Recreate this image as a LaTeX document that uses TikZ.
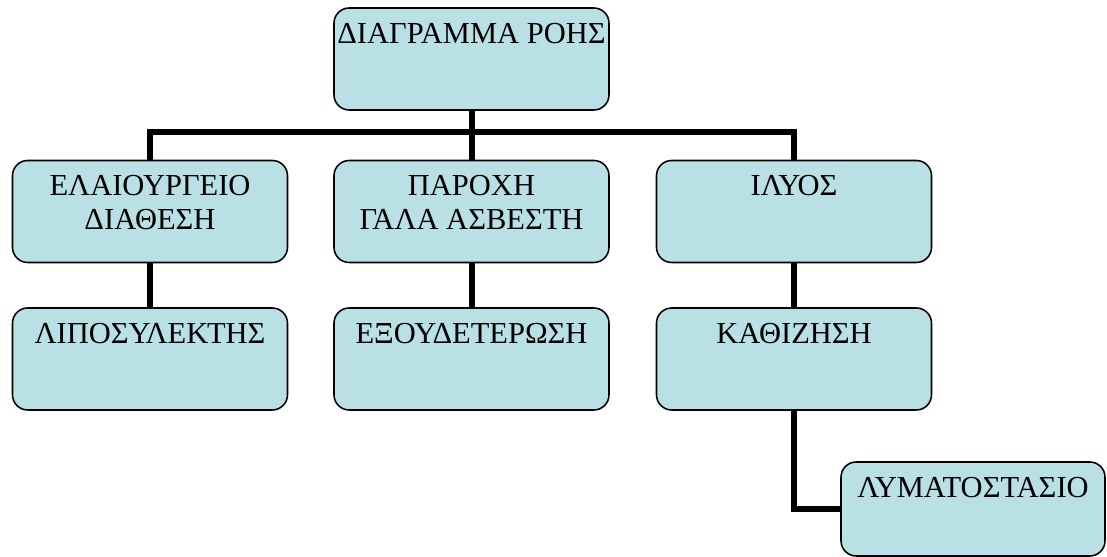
\documentclass[tikz,border=0pt]{standalone}
\usepackage{fontspec}
\setmainfont{Liberation Serif}
\usetikzlibrary{positioning}
\definecolor{boxfill}{RGB}{185,224,228}
\newcommand{\boxtext}[1]{\parbox[c][2.45cm][t]{6.8cm}{\centering\fontsize{21.7}{24.2}\selectfont\rule{0pt}{0.83cm}#1}}

\begin{document}
\begin{tikzpicture}[
  stage/.style={draw, line width=1.1pt, fill=boxfill, rounded corners=0.38cm, inner sep=0pt, minimum width=6.875cm, minimum height=2.55cm},
  link/.style={line width=0.15cm, line join=miter},
]
\useasboundingbox (0,0) rectangle (27.675,13.925);
% Top box
\node[stage] (flow) at (11.7875,12.45) {\boxtext{ΔΙΑΓΡΑΜΜΑ ΡΟΗΣ}};
% First row
\node[stage] (oil) at (3.75,8.6375) {\boxtext{ΕΛΑΙΟΥΡΓΕΙΟ\\ΔΙΑΘΕΣΗ}};
\node[stage] (lime) at (11.7875,8.6375) {\boxtext{ΠΑΡΟΧΗ\\ΓΑΛΑ ΑΣΒΕΣΤΗ}};
\node[stage] (sludge) at (19.85,8.6375) {\boxtext{ΙΛΥΟΣ}};
% Second row
\node[stage] (grease) at (3.75,4.95) {\boxtext{ΛΙΠΟΣΥΛΕΚΤΗΣ}};
\node[stage] (neutral) at (11.7875,4.95) {\boxtext{ΕΞΟΥΔΕΤΕΡΩΣΗ}};
\node[stage] (settle) at (19.85,4.95) {\boxtext{ΚΑΘΙΖΗΣΗ}};
% Last box
\node[stage, minimum width=6.6cm, minimum height=2.35cm] (plant) at (24.325,1.2) {\parbox[c][2.25cm][t]{6.5cm}{\centering\fontsize{21.7}{24.2}\selectfont\rule{0pt}{0.83cm}ΛΥΜΑΤΟΣΤΑΣΙΟ}};
% Connectors
\coordinate (bus) at (0,10.625);
\draw[link] (flow.south) -- (flow.south |- bus);
\draw[link] (oil.north) |- (sludge.north |- bus) -- (sludge.north);
\draw[link] (lime.north) -- (lime.north |- bus);
\draw[link] (oil.south) -- (grease.north);
\draw[link] (lime.south) -- (neutral.north);
\draw[link] (sludge.south) -- (settle.north);
\draw[link] (settle.south) |- (plant.west);
\end{tikzpicture}
\end{document}
